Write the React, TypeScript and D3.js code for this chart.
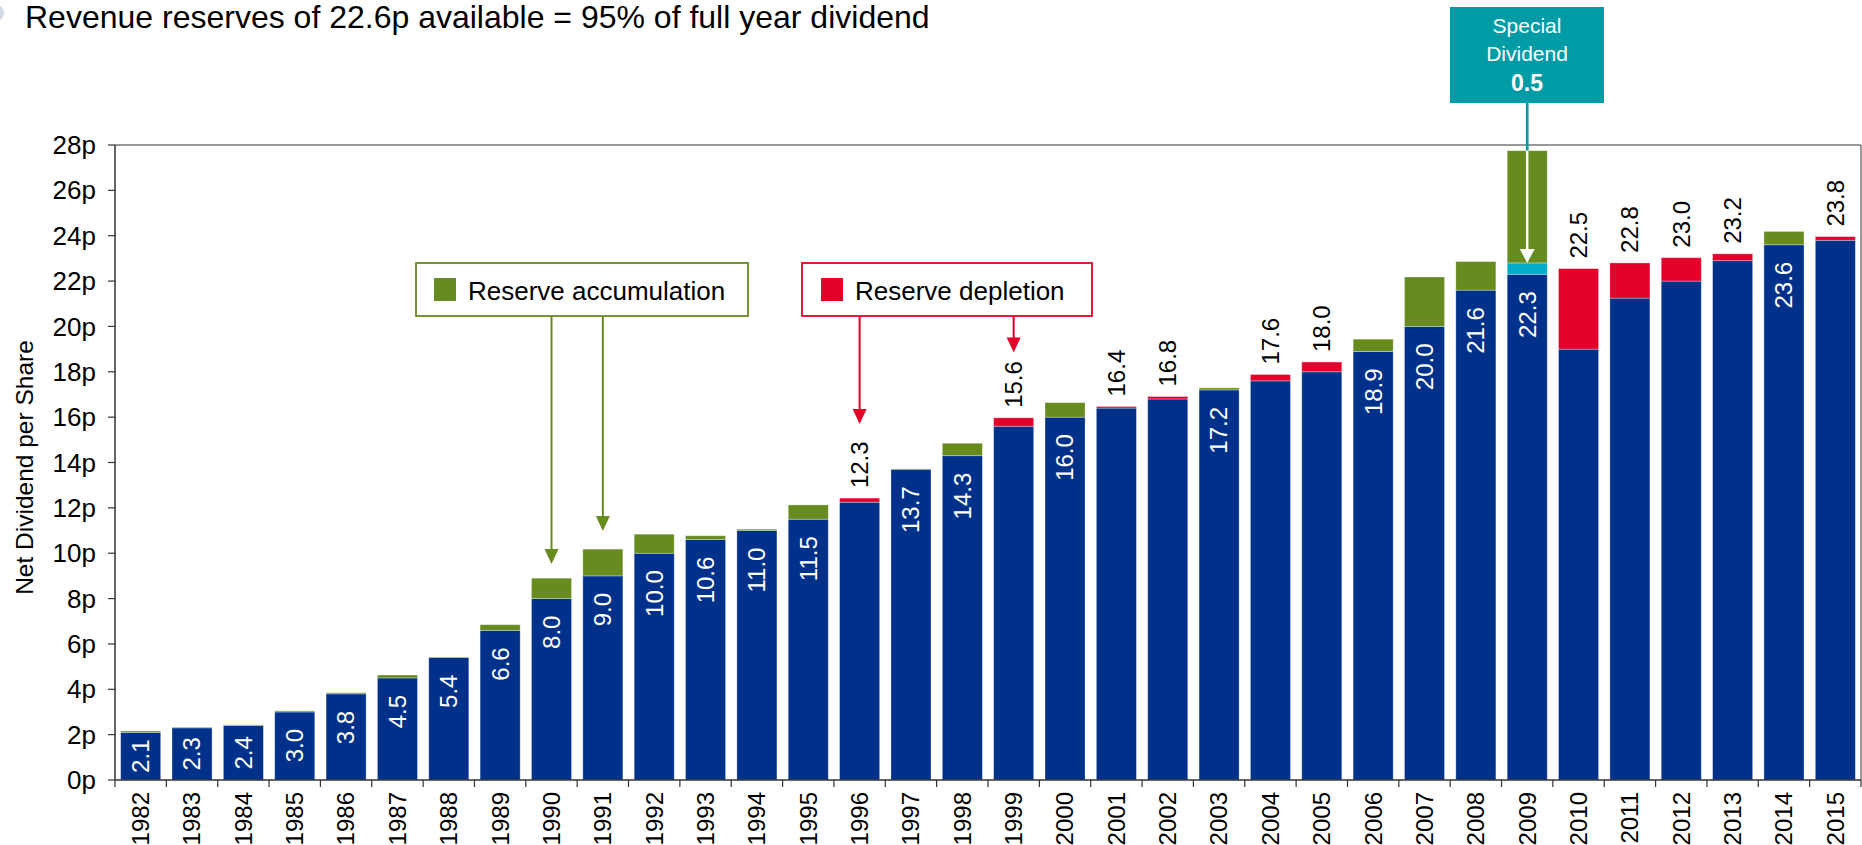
import React from 'react';
import * as d3 from 'd3';

const years = ['1982','1983','1984','1985','1986','1987','1988','1989','1990','1991','1992','1993','1994','1995','1996','1997','1998','1999','2000','2001','2002','2003','2004','2005','2006','2007','2008','2009','2010','2011','2012','2013','2014','2015'];
// dividend covered by revenue (blue)
const covered = [2.1,2.3,2.4,3.0,3.8,4.5,5.4,6.6,8.0,9.0,10.0,10.6,11.0,11.5,12.25,13.7,14.3,15.6,16.0,16.4,16.8,17.2,17.6,18.0,18.9,20.0,21.6,22.3,19.0,21.25,22.0,22.9,23.6,23.8];
// reserve depletion (red)
const depletion = [0,0,0,0,0,0,0,0,0,0,0,0,0,0,0.18,0,0,0.37,0,0.07,0.11,0,0.28,0.43,0,0,0,0,3.55,1.55,1.03,0.3,0,0.16];
// special dividend (cyan)
const specialDiv = [0,0,0,0,0,0,0,0,0,0,0,0,0,0,0,0,0,0,0,0,0,0,0,0,0,0,0,0.5,0,0,0,0,0,0];
// reserve accumulation (green)
const accumulation = [0.06,0.03,0.03,0.05,0.05,0.13,0.02,0.25,0.9,1.18,0.84,0.17,0.06,0.63,0,0.02,0.55,0,0.64,0,0,0.09,0,0,0.54,2.18,1.26,4.95,0,0,0,0,0.59,0];
const valueLabels = ['2.1','2.3','2.4','3.0','3.8','4.5','5.4','6.6','8.0','9.0','10.0','10.6','11.0','11.5','12.3','13.7','14.3','15.6','16.0','16.4','16.8','17.2','17.6','18.0','18.9','20.0','21.6','22.3','22.5','22.8','23.0','23.2','23.6','23.8'];
const yTicks = [0,2,4,6,8,10,12,14,16,18,20,22,24,26,28];
const greenArrowYears = ['1990','1991'];
const greenArrowTips = [9.52,10.98];
const redArrowYears = ['1996','1999'];
const redArrowTips = [15.7,18.85];
const specialYear = '2009';
const specialLabel = '0.5';

const title = 'Revenue reserves of 22.6p available = 95% of full year dividend';
const yTitle = 'Net Dividend per Share';

const BLUE = '#00318a';
const GREEN = '#688b1f';
const RED = '#e3002b';
const CYAN = '#00abc8';
const TEAL = '#009ca6';
const FONT = "'Liberation Sans', Arial, Helvetica, sans-serif";

const keys = ['covered','depletion','special','accumulation'];
const colors: Record<string,string> = { covered: BLUE, depletion: RED, special: CYAN, accumulation: GREEN };

export default function App() {
  const W = 1862, H = 845;
  const left = 115, right = 1861, top = 145, bottom = 780;
  const x = d3.scaleBand<string>().domain(years).range([left, right]).paddingInner(0.22).paddingOuter(0.11);
  const y = d3.scaleLinear().domain([0, 28]).range([bottom, top]);
  const step = x.step();
  const bw = x.bandwidth();

  const table = years.map((yr, i) => ({ year: yr, covered: covered[i], depletion: depletion[i], special: specialDiv[i], accumulation: accumulation[i] }));
  const series = d3.stack<any>().keys(keys)(table);

  const labelFont = 24;
  const charW = (s: string) => s.split('').reduce((a, c) => a + (c === '.' ? 0.278 : 0.556), 0) * labelFont;

  const cx = (yr: string) => (x(yr) as number) + bw / 2;
  const edges = d3.range(years.length + 1).map(i => left + i * step);

  const arrow = (xx: number, y0: number, y1: number, color: string, k: string, hw = 7, hl = 15, sw = 2) => (
    <g key={k}>
      <line x1={xx} x2={xx} y1={y0} y2={y1 - hl + 1} stroke={color} strokeWidth={sw} />
      <path d={`M${xx - hw},${y1 - hl} L${xx + hw},${y1 - hl} L${xx},${y1} Z`} fill={color} />
    </g>
  );

  const sx = cx(specialYear);
  const si = years.indexOf(specialYear);
  const specialTop = y(covered[si] + depletion[si] + specialDiv[si] + accumulation[si]);
  const cyanTop = y(covered[si] + depletion[si] + specialDiv[si]);

  return (
    <svg width={W} height={H} style={{ position: 'absolute', left: 0, top: 0, display: 'block', background: '#fff' }} fontFamily={FONT}>
      <rect x={0} y={0} width={W} height={H} fill="#fff" />
      <circle cx={-5} cy={13} r={9} fill="#d3dae8" />
      <text x={25} y={28} fontSize={32} fill="#000">{title}</text>

      {/* frame */}
      <line x1={left} x2={right} y1={top} y2={top} stroke="#333" strokeWidth={1.2} />
      <line x1={right} x2={right} y1={top} y2={bottom} stroke="#777" strokeWidth={1.5} />

      {/* bars */}
      {series.map(s => (
        <g key={s.key}>
          {s.map((d, i) => {
            const h = y(d[0]) - y(d[1]);
            if (h <= 0) return null;
            return <rect key={i} x={x(years[i]) as number} y={y(d[1])} width={bw} height={h} fill={colors[s.key]} stroke="#fff" strokeOpacity={0.4} strokeWidth={0.8} />;
          })}
        </g>
      ))}

      {/* axes */}
      <line x1={left} x2={left} y1={top} y2={bottom} stroke="#333" strokeWidth={1.5} />
      <line x1={left} x2={right} y1={bottom} y2={bottom} stroke="#333" strokeWidth={1.5} />
      {yTicks.map(t => (
        <g key={t}>
          <line x1={left - 7} x2={left} y1={y(t)} y2={y(t)} stroke="#333" strokeWidth={1.2} />
          <text x={left - 19} y={y(t)} dy="0.35em" textAnchor="end" fontSize={26} fill="#000">{t + 'p'}</text>
        </g>
      ))}
      {edges.map((e, i) => (
        <line key={i} x1={e} x2={e} y1={bottom} y2={bottom + 7} stroke="#333" strokeWidth={1.2} />
      ))}
      {years.map(yr => (
        <text key={yr} transform={`translate(${cx(yr)},${bottom + 12}) rotate(-90)`} dy="0.35em" textAnchor="end" fontSize={24} fill="#000">{yr}</text>
      ))}
      <text transform={`translate(24,${(top + bottom) / 2 + 5}) rotate(-90)`} dy="0.35em" textAnchor="middle" fontSize={24.5} fill="#000">{yTitle}</text>

      {/* value labels */}
      {years.map((yr, i) => {
        const lab = valueLabels[i];
        if (depletion[i] > 0) {
          const tot = covered[i] + depletion[i] + specialDiv[i] + accumulation[i];
          return <text key={yr} transform={`translate(${cx(yr)},${y(tot) - 10}) rotate(-90)`} dy="0.35em" textAnchor="start" fontSize={labelFont} fill="#000">{lab}</text>;
        }
        const bh = y(0) - y(covered[i]);
        const gap = Math.min(17, (bh - charW(lab)) / 2);
        return <text key={yr} transform={`translate(${cx(yr)},${y(covered[i]) + gap}) rotate(-90)`} dy="0.35em" textAnchor="end" fontSize={labelFont} fill="#fff">{lab}</text>;
      })}

      {/* legend boxes */}
      <rect x={416} y={263} width={332} height={53} fill="#fff" stroke={GREEN} strokeWidth={1.8} />
      <rect x={434} y={278} width={22} height={23} fill={GREEN} />
      <text x={468} y={300} fontSize={26} fill="#000">Reserve accumulation</text>
      <rect x={802} y={263} width={290} height={53} fill="#fff" stroke={RED} strokeWidth={1.8} />
      <rect x={821} y={278} width={22} height={23} fill={RED} />
      <text x={855} y={300} fontSize={26} fill="#000">Reserve depletion</text>

      {greenArrowYears.map((yr, i) => arrow(cx(yr), 316, y(greenArrowTips[i]), GREEN, 'g' + yr))}
      {redArrowYears.map((yr, i) => arrow(cx(yr), 316, y(redArrowTips[i]), RED, 'r' + yr))}

      {/* special dividend */}
      <rect x={1450} y={7} width={154} height={96} fill={TEAL} />
      <text x={1527} y={33} textAnchor="middle" fontSize={21} fill="#fff">Special</text>
      <text x={1527} y={61} textAnchor="middle" fontSize={21} fill="#fff">Dividend</text>
      <text x={1527} y={91} textAnchor="middle" fontSize={23} fontWeight="bold" fill="#fff">{specialLabel}</text>
      <line x1={sx} x2={sx} y1={103} y2={specialTop} stroke={TEAL} strokeWidth={2.7} />
      {arrow(sx, specialTop, cyanTop, '#fff', 'sp', 7.5, 14, 2.5)}
    </svg>
  );
}
